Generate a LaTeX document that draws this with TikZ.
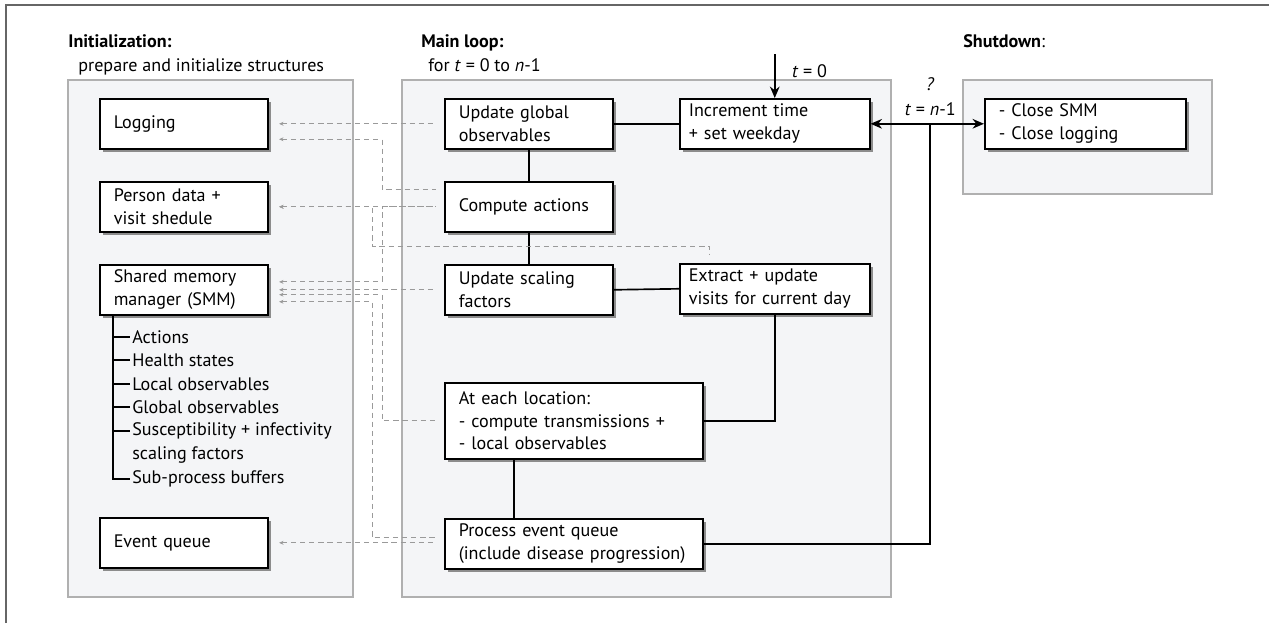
\documentclass[tikz,border=0pt]{standalone}
\usepackage{fontspec}
\setmainfont{PT Sans}
\usetikzlibrary{arrows.meta,shadows}
\definecolor{panelgray}{HTML}{F4F5F7}
\definecolor{panelline}{HTML}{B0B0B0}
\definecolor{dashgray}{HTML}{9A9A9A}

\begin{document}
\begin{tikzpicture}[x=0.02cm,y=-0.02cm,font=\fontsize{10.3pt}{13pt}\selectfont]
	\tikzstyle{Panel} = [fill=panelgray,draw=panelline,line width=0.6pt]
	\tikzstyle{Box} = [draw,fill=white,line width=0.9pt,anchor=north west,align=left,inner xsep=0.28cm,inner ysep=0pt,minimum height=1cm,text width=2.8cm,drop shadow={shadow xshift=1.6pt,shadow yshift=-1.6pt,fill=black!45,opacity=1}]
	\tikzstyle{Title} = [anchor=base west,inner sep=0pt]
	\tikzstyle{Item} = [anchor=west,inner sep=0pt]
	\tikzstyle{Link} = [line width=0.95pt]
	\tikzstyle{Flow} = [line width=0.95pt,>={Stealth[length=6.5pt,width=5.5pt]}]
	\tikzstyle{Data} = [dashgray,line width=0.5pt,dash pattern=on 3pt off 2.2pt,{Stealth[length=2.5pt,width=2.2pt]}-,shorten <=6pt,shorten >=4.5pt]
	\useasboundingbox (0,0) rectangle (1269,623);
	\draw[black!60,line width=0.8pt] (6,623) -- (6,5) -- (1269,5);
	% panels
	\filldraw[Panel] (68,80) rectangle (353,597);
	\filldraw[Panel] (402,80) rectangle (891,597);
	\filldraw[Panel] (963,80) rectangle (1212,194);
	\node[Title] (ttlI) at (68,47) {\textbf{Initialization:}};
	\node[Title] (subI) at (78,71) {prepare and initialize structures};
	\node[Title] (ttlM) at (421,47) {\textbf{Main loop:}};
	\node[Title] (subM) at (428,71) {for \textit{t} = 0 to \textit{n}-1};
	\node[Title] (ttlS) at (963,47) {\textbf{Shutdown}:};
	% initialization
	\node[Box] (log) at (99,98) {Logging};
	\node[Box] (per) at (99,181) {Person data +\\visit shedule};
	\node[Box] (smm) at (99,264) {Shared memory\\manager (SMM)};
	\node[Box] (evq) at (99,517) {Event queue};
	\coordinate (trunk) at ([xshift=8pt]smm.south west);
	\node[Item] (it1) at (132,337) {Actions};
	\node[Item] (it2) at (132,360) {Health states};
	\node[Item] (it3) at (132,384) {Local observables};
	\node[Item] (it4) at (132,407) {Global observables};
	\node[Item] (it5) at (132,431) {Susceptibility + infectivity};
	\node[Item] (it6) at (132,455) {scaling factors};
	\node[Item] (it7) at (132,479) {Sub-process buffers};
	\draw[Link] (trunk) -- (trunk |- it7.west) -- ([xshift=-1pt]it7.west);
	\draw[Link] (trunk |- it1.west) -- ([xshift=-1pt]it1.west);
	\draw[Link] (trunk |- it2.west) -- ([xshift=-1pt]it2.west);
	\draw[Link] (trunk |- it3.west) -- ([xshift=-1pt]it3.west);
	\draw[Link] (trunk |- it4.west) -- ([xshift=-1pt]it4.west);
	\draw[Link] (trunk |- it5.west) -- ([xshift=-1pt]it5.west);
	% main loop
	\node[Box] (upd) at (444,98) {Update global\\observables};
	\node[Box] (inc) at (679,98) [inner xsep=0.18cm,text width=3.44cm] {Increment time\\+ set weekday};
	\node[Box] (act) at (444,181) {Compute actions};
	\node[Box] (scal) at (444,264) {Update scaling\\factors};
	\node[Box] (extr) at (679,263) [inner xsep=0.18cm,text width=3.44cm] {Extract + update\\visits for current day};
	\node[Box] (loc) at (444,382) [text width=4.6cm,minimum height=1.52cm] {At each location:\\- compute transmissions +\\- local observables};
	\node[Box] (proc) at (444,518) [text width=4.6cm] {Process event queue\\(include disease progression)};
	% shutdown
	\node[Box] (shd) at (984,98) [text width=3.46cm] {- Close SMM\\- Close logging};
	% control flow
	\draw[Link] (upd.east) -- (inc.west);
	\draw[Link] (upd.south) -- (act.north);
	\draw[Link] (act.south) -- (scal.north);
	\draw[Link] (scal.east) -- (extr.west);
	\draw[Link] (extr.south) |- (loc.east);
	\coordinate (locB) at ([xshift=40pt]loc.south west);
	\draw[Link] (locB) -- (locB |- proc.north);
	\coordinate (jn) at ([xshift=34pt]inc.east);
	\draw[Flow,<->] (inc.east) -- (shd.west);
	\draw[Link] (proc.east) -| (jn);
	\coordinate (tin) at ([yshift=25pt]inc.north);
	\draw[Flow,->] (tin) -- (inc.north) node[pos=0.4,right=6pt] (t0) {\textit{t} = 0};
	\node[anchor=base,inner sep=0pt] (tend) at ([yshift=5pt]jn) {\textit{t} = \textit{n}-1};
	\node[anchor=base,inner sep=0pt] (qm) at ([yshift=19pt]jn) {\textit{?}};
	% data access
	\coordinate (busA) at (372,0);
	\coordinate (busB) at (382,0);
	\coordinate (logL) at ([yshift=-8.8pt]log.east);
	\coordinate (actT) at ([yshift=9.6pt]act.west);
	\coordinate (smmA) at ([yshift=4.5pt]smm.east);
	\coordinate (smmC) at ([yshift=-2.8pt]smm.east);
	\coordinate (smmD) at ([yshift=-6.8pt]smm.east);
	\coordinate (procT) at ([yshift=3.4pt]proc.west);
	\coordinate (extrK) at ([xshift=17.6pt,yshift=9.6pt]extr.north west);
	\draw[Data] (log.east) -- (upd.west);
	\draw[Data] (logL) -- (logL -| busB) |- (actT);
	\draw[Data] (per.east) -- (act.west);
	\draw[Data] (per.east) -- (per.east -| busA) |- (extrK) -- (extrK |- extr.north);
	\draw[Data] (smmA) -| (busB |- act.west) -- (act.west);
	\draw[Data] (smm.east) -- (scal.west);
	\draw[Data] (smmC) -| (busB |- loc.west) -- (loc.west);
	\draw[Data] (smmD) -| (busA |- procT) -- (procT);
	\draw[Data] (evq.east) -- (evq.east -| proc.west);
\end{tikzpicture}
\end{document}
